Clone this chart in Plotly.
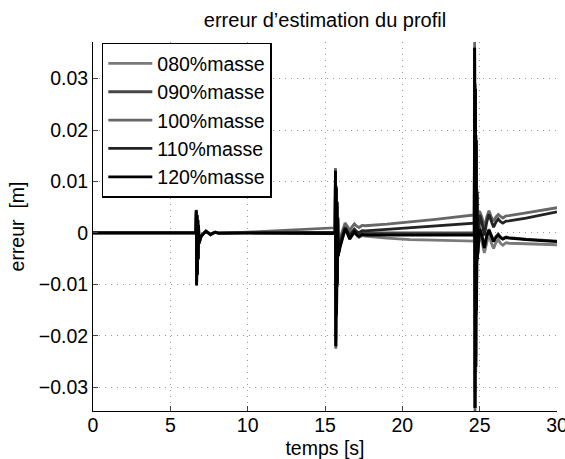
import plotly.graph_objects as go

# time axis [s]
temps = [0, 6.65,
         6.675, 6.70, 6.725, 6.75, 6.775, 6.80, 6.825, 6.85,
         7.0, 7.15, 7.3, 7.45, 7.6, 7.75, 7.9, 8.05, 8.2,
         10, 12, 14, 15.65,
         15.675, 15.70, 15.725, 15.75, 15.775, 15.80, 15.825, 15.85,
         16.0, 16.15, 16.3, 16.45, 16.6, 16.75, 16.9, 17.05, 17.2, 17.4, 17.6,
         19, 20.5, 22, 24.65,
         24.675, 24.70, 24.725, 24.75, 24.775, 24.80, 24.825, 24.85,
         25.0, 25.15, 25.3, 25.45, 25.6, 25.75, 25.9, 26.05, 26.2, 26.35, 26.5, 26.7, 26.9,
         28, 30]

# estimation error per mass case, in mm
err_080_mm = [0, 0,
              4.0, -9.6, 3.3, -7.6, 2.4, -4.8, 1.4, -1.9,
              -0.55, -0.1, 0.3, 0, -0.3, -0.05, 0.12, 0, -0.05,
              0, -0.05, -0.1, -0.1,
              11.5, -21.0, 8.5, -15, 5.6, -9.5, 2.8, -4.3,
              -2.3, -0.6, 0.7, -0.2, -1.2, -0.5, 0.0, -0.5, -0.85, -0.5, -0.6,
              -1.0, -1.3, -1.4, -1.6,
              34, -32, 27, -25, 17, -14, 7.5, -5,
              -0.1, -1.7, -3.9, -1.8, -0.2, -1.9, -3.0, -1.9, -1.3, -2.0, -2.4, -1.9, -2.0,
              -2.1, -2.3]
err_090_mm = [0, 0,
              3.8, -9.2, 3.1, -7.2, 2.2, -4.5, 1.3, -1.8,
              -0.5, -0.1, 0.28, 0, -0.28, -0.05, 0.1, 0, -0.04,
              0, 0, 0, 0,
              11.2, -20.5, 8.2, -14.5, 5.4, -9, 2.6, -4,
              -1.6, -0.25, 0.8, 0.15, -0.65, -0.1, 0.4, 0, -0.25, 0.08, 0,
              0, 0, 0, 0,
              33, -31, 26, -24, 16, -13, 7, -4.5,
              1.0, -0.4, -2.8, -0.5, 0.7, -0.6, -1.5, -0.7, -0.2, -0.8, -1.1, -0.8, -0.9,
              -1.2, -1.6]
err_100_mm = [0, 0,
              4.5, -10.3, 3.6, -8.2, 2.6, -5.2, 1.6, -2.1,
              -0.6, -0.1, 0.35, 0, -0.35, -0.05, 0.15, 0, -0.05,
              0.15, 0.45, 0.75, 1.0,
              12.6, -22.5, 9.2, -16.5, 6.2, -10.5, 3.2, -4.6,
              -0.8, 0.75, 1.95, 1.25, 0.5, 1.2, 1.75, 1.3, 1.05, 1.45, 1.4,
              1.7, 2.1, 2.6, 3.5,
              37.1, -34.6, 29, -27, 19, -16, 8.5, -5.5,
              4.2, 3.0, 1.0, 3.0, 4.3, 3.1, 2.3, 3.1, 3.6, 3.2, 2.9, 3.3, 3.35,
              3.9, 4.9]
err_110_mm = [0, 0,
              4.3, -10.0, 3.5, -8.0, 2.5, -5.0, 1.5, -2.0,
              -0.58, -0.1, 0.33, 0, -0.33, -0.05, 0.14, 0, -0.05,
              0, 0.05, 0.1, 0.15,
              12.2, -22, 8.9, -16, 6, -10, 3, -4.5,
              -1.6, -0.1, 1.1, 0.4, -0.5, 0.2, 0.75, 0.3, 0.05, 0.45, 0.4,
              0.7, 1.0, 1.3, 1.9,
              36, -34, 28, -26, 18, -15, 8, -5,
              3.5, 2.0, -0.5, 2.0, 3.6, 2.1, 1.1, 2.1, 2.7, 2.2, 1.9, 2.3, 2.35,
              2.9, 4.1]
err_120_mm = [0, 0,
              4.4, -10.1, 3.5, -8.1, 2.5, -5.1, 1.5, -2.0,
              -0.6, -0.1, 0.34, 0, -0.34, -0.05, 0.14, 0, -0.05,
              0, -0.05, -0.1, -0.15,
              12.0, -22, 8.8, -15.8, 5.9, -9.8, 2.9, -4.4,
              -2.5, -0.6, 0.8, -0.1, -1.2, -0.45, 0.2, -0.35, -0.7, -0.3, -0.4,
              -0.4, -0.4, -0.4, -0.4,
              36, -34, 28, -26, 18, -15, 8, -5,
              0.7, -0.6, -2.9, -0.7, 0.5, -0.8, -1.7, -0.9, -0.4, -0.9, -1.2, -0.9, -1.0,
              -1.3, -1.7]

series_names = ["080%masse", "090%masse", "100%masse", "110%masse", "120%masse"]
series_mm = [err_080_mm, err_090_mm, err_100_mm, err_110_mm, err_120_mm]
series_colors = ["#7a7a7a", "#464646", "#676767", "#232323", "#000000"]

y_tickvals = [-0.03, -0.02, -0.01, 0, 0.01, 0.02, 0.03]
y_ticktext = ["\u22120.03", "\u22120.02", "\u22120.01", "0", "0.01", "0.02", "0.03"]
x_tickvals = [0, 5, 10, 15, 20, 25, 30]

for vals in series_mm:
    assert len(vals) == len(temps), len(vals)

FONT = "Liberation Sans, Arial, sans-serif"
GRID = dict(showgrid=True, gridcolor="#9a9a9a", griddash="1px,5px", gridwidth=1)

fig = go.Figure()
for name, vals, col in zip(series_names, series_mm, series_colors):
    fig.add_trace(go.Scatter(
        x=temps, y=[v / 1000.0 for v in vals], mode="lines", name=name,
        line=dict(color=col, width=2.8), hoverinfo="skip"))

fig.update_layout(
    width=565, height=459,
    margin=dict(l=93, r=8, t=42, b=48),
    paper_bgcolor="white", plot_bgcolor="white",
    font=dict(family=FONT, size=19.5, color="black"),
    title=dict(text="erreur d\u2019estimation du profil", font=dict(size=20),
               x=0.5, xref="paper", xanchor="center",
               y=1 - 20 / 459, yref="container", yanchor="middle"),
    showlegend=True,
    legend=dict(x=0.019, y=0.998, xanchor="left", yanchor="top",
                bgcolor="white", bordercolor="black", borderwidth=1.5,
                font=dict(size=19.5), itemwidth=44),
    xaxis=dict(range=[0, 30], tickvals=x_tickvals, ticks="inside", ticklen=5,
               ticklabelstandoff=-3,
               showline=True, linecolor="black", linewidth=1, mirror=False,
               zeroline=False, automargin=False, ticklabeloverflow="allow",
               title=dict(text="temps [s]", standoff=5, font=dict(size=19.5)), **GRID),
    yaxis=dict(range=[-0.0346, 0.0371], tickvals=y_tickvals, ticktext=y_ticktext,
               ticks="inside", ticklen=5,
               showline=True, linecolor="black", linewidth=1, mirror=False,
               zeroline=False, automargin=False, ticklabeloverflow="allow",
               title=dict(text="erreur  [m]", standoff=8, font=dict(size=19.5)), **GRID),
)

fig.write_html("out.html", config={"displayModeBar": False},
               post_script="document.body.style.margin='0';document.body.style.overflow='hidden';")
